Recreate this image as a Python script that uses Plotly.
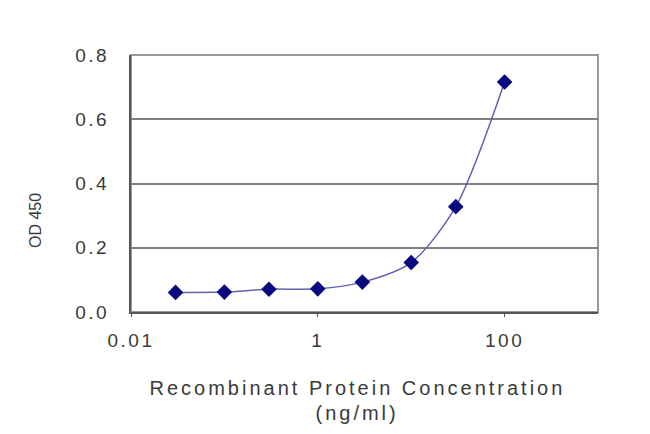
import plotly.graph_objects as go

concentration = [0.03, 0.1, 0.3, 1, 3, 10, 30, 100]
od450 = [0.061, 0.062, 0.071, 0.072, 0.093, 0.154, 0.328, 0.716]
x_tick_vals = [0.01, 1, 100]
x_tick_text = ["0.01", "1", "100"]
y_tick_vals = [0.0, 0.2, 0.4, 0.6, 0.8]
y_tick_text = ["0.0", "0.2", "0.4", "0.6", "0.8"]
x_title_line1 = "Recombinant Protein Concentration"
x_title_line2 = "(ng/ml)"
y_title = "OD 450"

font_family = "Liberation Sans, Arial, sans-serif"
text_color = "#3a3a3a"

fig = go.Figure()
fig.add_trace(go.Scatter(
    x=concentration, y=od450, mode="lines+markers",
    line=dict(color="#6262b0", width=1.5, shape="spline", smoothing=0.8),
    marker=dict(symbol="diamond", size=12, color="#0a0a80"),
    showlegend=False,
))

fig.update_layout(
    width=650, height=434,
    margin=dict(l=123, r=60, t=47, b=130, autoexpand=False),
    paper_bgcolor="white", plot_bgcolor="white",
    font=dict(family=font_family, size=18, color=text_color),
    xaxis=dict(
        type="log", range=[-2, 3], automargin=False,
        tickvals=x_tick_vals, ticktext=x_tick_text,
        showgrid=False, zeroline=False,
        showline=True, linecolor="#555555", linewidth=2,
        ticks="outside", ticklen=3, tickcolor="#555555",
        ticklabelstandoff=7,
        tickfont=dict(size=19, color=text_color),
    ),
    yaxis=dict(
        range=[0, 0.8], automargin=False,
        tickvals=y_tick_vals, ticktext=y_tick_text,
        showgrid=True, gridcolor="#808080", gridwidth=2,
        zeroline=False,
        showline=True, linecolor="#555555", linewidth=2,
        ticks="", ticklabelstandoff=16,
        tickfont=dict(size=19, color=text_color),
    ),
    shapes=[dict(type="rect", xref="paper", yref="paper", x0=0, y0=0, x1=1, y1=1,
                 line=dict(color="#999999", width=2), layer="below")],
    annotations=[
        dict(text=x_title_line1, xref="paper", yref="paper", x=0.484, y=0,
             xanchor="center", yanchor="middle", yshift=-76, showarrow=False,
             font=dict(size=20, color=text_color)),
        dict(text=x_title_line2, xref="paper", yref="paper", x=0.484, y=0,
             xanchor="center", yanchor="middle", yshift=-101, showarrow=False,
             font=dict(size=20, color=text_color)),
        dict(text=y_title, xref="paper", yref="paper", x=0, y=0.354,
             xanchor="center", yanchor="middle", xshift=-96, textangle=-90,
             showarrow=False, font=dict(size=16, color=text_color)),
    ],
)

post = """
var gd = document.getElementById('{plot_id}');
function ls(){
  gd.querySelectorAll('.xtick text, .ytick text').forEach(function(t){t.style.letterSpacing='2.5px';});
  gd.querySelectorAll('.annotation-text').forEach(function(t){
    if (t.textContent.indexOf('Recombinant') >= 0 || t.textContent.indexOf('ng/ml') >= 0) {
      t.style.letterSpacing='3px';
    }
  });
}
ls();
gd.on('plotly_afterplot', ls);
"""

fig.write_html("out.html", post_script=post)
